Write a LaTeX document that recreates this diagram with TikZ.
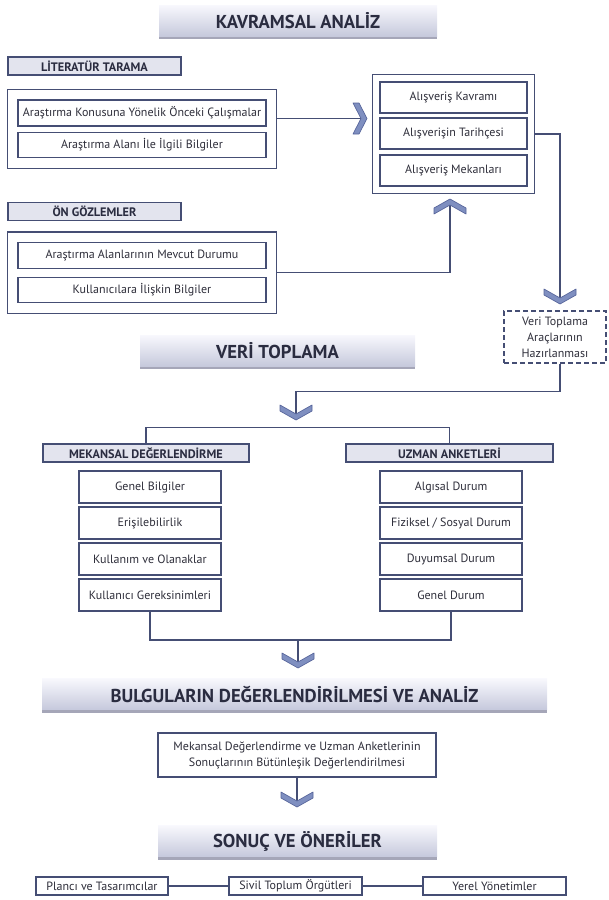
\documentclass[tikz,border=0pt]{standalone}
\usepackage{fontspec}
\setmainfont{PT Sans}
\usepackage{xcolor}
\usepackage{tikz}
\usetikzlibrary{fit,shadows}

\definecolor{frame}{HTML}{454E74}
\definecolor{ink}{HTML}{2E2E3A}
\definecolor{headfill}{HTML}{E3E4EE}
\definecolor{banTop}{HTML}{F8F8FD}
\definecolor{banBot}{HTML}{C6C9DC}
\definecolor{banShadow}{HTML}{8E90A6}
\definecolor{bantext}{HTML}{2A2C40}
\definecolor{chevfill}{HTML}{7F8FC0}
\definecolor{chevline}{HTML}{56649A}

\begin{document}
\begin{tikzpicture}[x=0.75pt,y=-0.75pt,
    wire/.style={draw=frame,line width=0.9pt},
    cell/.style={draw=frame,line width=0.9pt,fill=white,text=ink,inner sep=0pt,
      align=center,font=\fontsize{9}{12}\selectfont},
    head/.style={cell,fill=headfill,text=bantext,font=\bfseries\fontsize{9.2}{10}\selectfont},
    banner/.style={top color=banTop,bottom color=banBot,draw=none,inner sep=0pt,
      drop shadow={shadow xshift=0pt,shadow yshift=-2.5pt,fill=banShadow,opacity=0.8},
      text=bantext,font=\bfseries\fontsize{14}{16}\selectfont},
    grpbox/.style={draw=frame,line width=0.9pt,inner sep=#1},
    chev/.style={fill=chevfill,draw=chevline,line width=0.5pt,line join=round},
    chevdown/.pic={\path[chev] (-16,-9) -- (0,0) -- (16,-9) -- (16,-3) -- (0,6) -- (-16,-3) -- cycle;},
    chevup/.pic={\path[chev] (-16,9) -- (0,0) -- (16,9) -- (16,3) -- (0,-6) -- (-16,3) -- cycle;},
    chevright/.pic={\path[chev] (-8,-15.5) -- (0,0) -- (-8,15.5) -- (-2,15.5) -- (6,0) -- (-2,-15.5) -- cycle;}]
    \useasboundingbox (0,0) rectangle (608,900);
    \def\cw{106.5pt}\def\ch{24pt}

    % Kavramsal analiz
    \node[banner,minimum width=208.5pt,minimum height=23.25pt] (kav) at (298,20.5) {KAVRAMSAL ANALİZ};
    \node[head,minimum width=129.75pt,minimum height=13.5pt] (lit) at (94.5,66) {LİTERATÜR TARAMA};
    \node[cell,minimum width=186pt,minimum height=19.5pt] (lit1) at (142,113) {Araştırma Konusuna Yönelik Önceki Çalışmalar};
    \node[cell,minimum width=186pt,minimum height=18.75pt] (lit2) at (142,145) {Araştırma Alanı İle İlgili Bilgiler};
    \node[grpbox=7.5pt,fit=(lit1)(lit2)] (litgrp) {};
    \node[head,minimum width=129.75pt,minimum height=13.5pt] (on) at (94.5,211.5) {ÖN GÖZLEMLER};
    \node[cell,minimum width=186pt,minimum height=19.5pt] (on1) at (142,255.5) {Araştırma Alanlarının Mevcut Durumu};
    \node[cell,minimum width=186pt,minimum height=18.75pt] (on2) at (142,290) {Kullanıcılara İlişkin Bilgiler};
    \node[grpbox=7.5pt,fit=(on1)(on2)] (ongrp) {};
    \node[cell,minimum width=110.25pt,minimum height=23.25pt] (als1) at (453.5,97.5) {Alışveriş Kavramı};
    \node[cell,minimum width=110.25pt,minimum height=23.25pt] (als2) at (453.5,133.5) {Alışverişin Tarihçesi};
    \node[cell,minimum width=110.25pt,minimum height=23.25pt] (als3) at (453.5,170.5) {Alışveriş Mekanları};
    \node[grpbox=5.25pt,fit=(als1)(als3)] (alsgrp) {};
    \node[cell,dashed,dash pattern=on 3.5pt off 2.5pt,minimum width=76.5pt,minimum height=39pt] (prep) at (555,337)
      {Veri Toplama\\Araçlarının\\Hazırlanması};

    % Veri toplama
    \node[banner,minimum width=206.25pt,minimum height=23.25pt] (veri) at (277.5,350.5) {VERİ TOPLAMA};
    \node[head,minimum width=154.5pt,minimum height=13.5pt] (mek) at (146,453) {MEKANSAL DEĞERLENDİRME};
    \node[head,minimum width=155.25pt,minimum height=13.5pt] (uzm) at (449.5,453) {UZMAN ANKETLERİ};
    \node[cell,minimum width=\cw,minimum height=\ch] (mek1) at (150,487) {Genel Bilgiler};
    \node[cell,minimum width=\cw,minimum height=\ch] (mek2) at (150,523) {Erişilebilirlik};
    \node[cell,minimum width=\cw,minimum height=\ch] (mek3) at (150,559) {Kullanım ve Olanaklar};
    \node[cell,minimum width=\cw,minimum height=\ch] (mek4) at (150,595) {Kullanıcı Gereksinimleri};
    \node[cell,minimum width=\cw,minimum height=\ch] (uzm1) at (451,487) {Algısal Durum};
    \node[cell,minimum width=\cw,minimum height=\ch] (uzm2) at (451,523) {Fiziksel / Sosyal Durum};
    \node[cell,minimum width=\cw,minimum height=\ch] (uzm3) at (451,559) {Duyumsal Durum};
    \node[cell,minimum width=\cw,minimum height=\ch] (uzm4) at (451,595) {Genel Durum};

    % Bulgular, sonuc
    \node[banner,minimum width=378.75pt,minimum height=23.25pt] (bulg) at (294.5,694) {BULGULARIN DEĞERLENDİRİLMESİ VE ANALİZ};
    \node[cell,minimum width=208.5pt,minimum height=33pt] (res) at (297,755)
      {Mekansal Değerlendirme ve Uzman Anketlerinin\\Sonuçlarının Bütünleşik Değerlendirilmesi};
    \node[banner,minimum width=209.25pt,minimum height=23.25pt] (sonuc) at (297.5,841) {SONUÇ VE ÖNERİLER};
    \node[cell,minimum width=99pt,minimum height=13.5pt] (b1) at (102,886) {Plancı ve Tasarımcılar};
    \node[cell,minimum width=99.75pt,minimum height=13.5pt] (b2) at (295.5,886) {Sivil Toplum Örgütleri};
    \node[cell,minimum width=107.25pt,minimum height=13.5pt] (b3) at (494.5,886) {Yerel Yönetimler};

    % chevron points
    \coordinate (chR) at (361,118.5);
    \coordinate (chU) at (450,205);
    \coordinate (chD1) at (560,298);
    \coordinate (chD2) at (296,414);
    \coordinate (chD3) at (298,662);
    \coordinate (chD4) at (297,801);
    \coordinate (lowbar) at (298,640);

    % Connectors
    \draw[wire] (litgrp.east |- chR) -- (chR);
    \draw[wire] (ongrp.east) -| (chU);
    \draw[wire] (alsgrp.east) -| (chD1);
    \draw[wire] (prep.south -| chD1) -- ++(0,28) -| (chD2);
    \draw[wire] (mek.north) -- ++(0,-16) -| (uzm.north);
    \draw[wire] (mek4.south) |- (lowbar) -| (uzm4.south);
    \draw[wire] (lowbar) -- (chD3);
    \draw[wire] (res.south) -- (chD4);
    \draw[wire] (b1) -- (b2);
    \draw[wire] (b2) -- (b3);

    % Chevrons
    \pic at (chR) {chevright};
    \pic at (chU) {chevup};
    \pic at (chD1) {chevdown};
    \pic at (chD2) {chevdown};
    \pic at (chD3) {chevdown};
    \pic at (chD4) {chevdown};
\end{tikzpicture}
\end{document}
